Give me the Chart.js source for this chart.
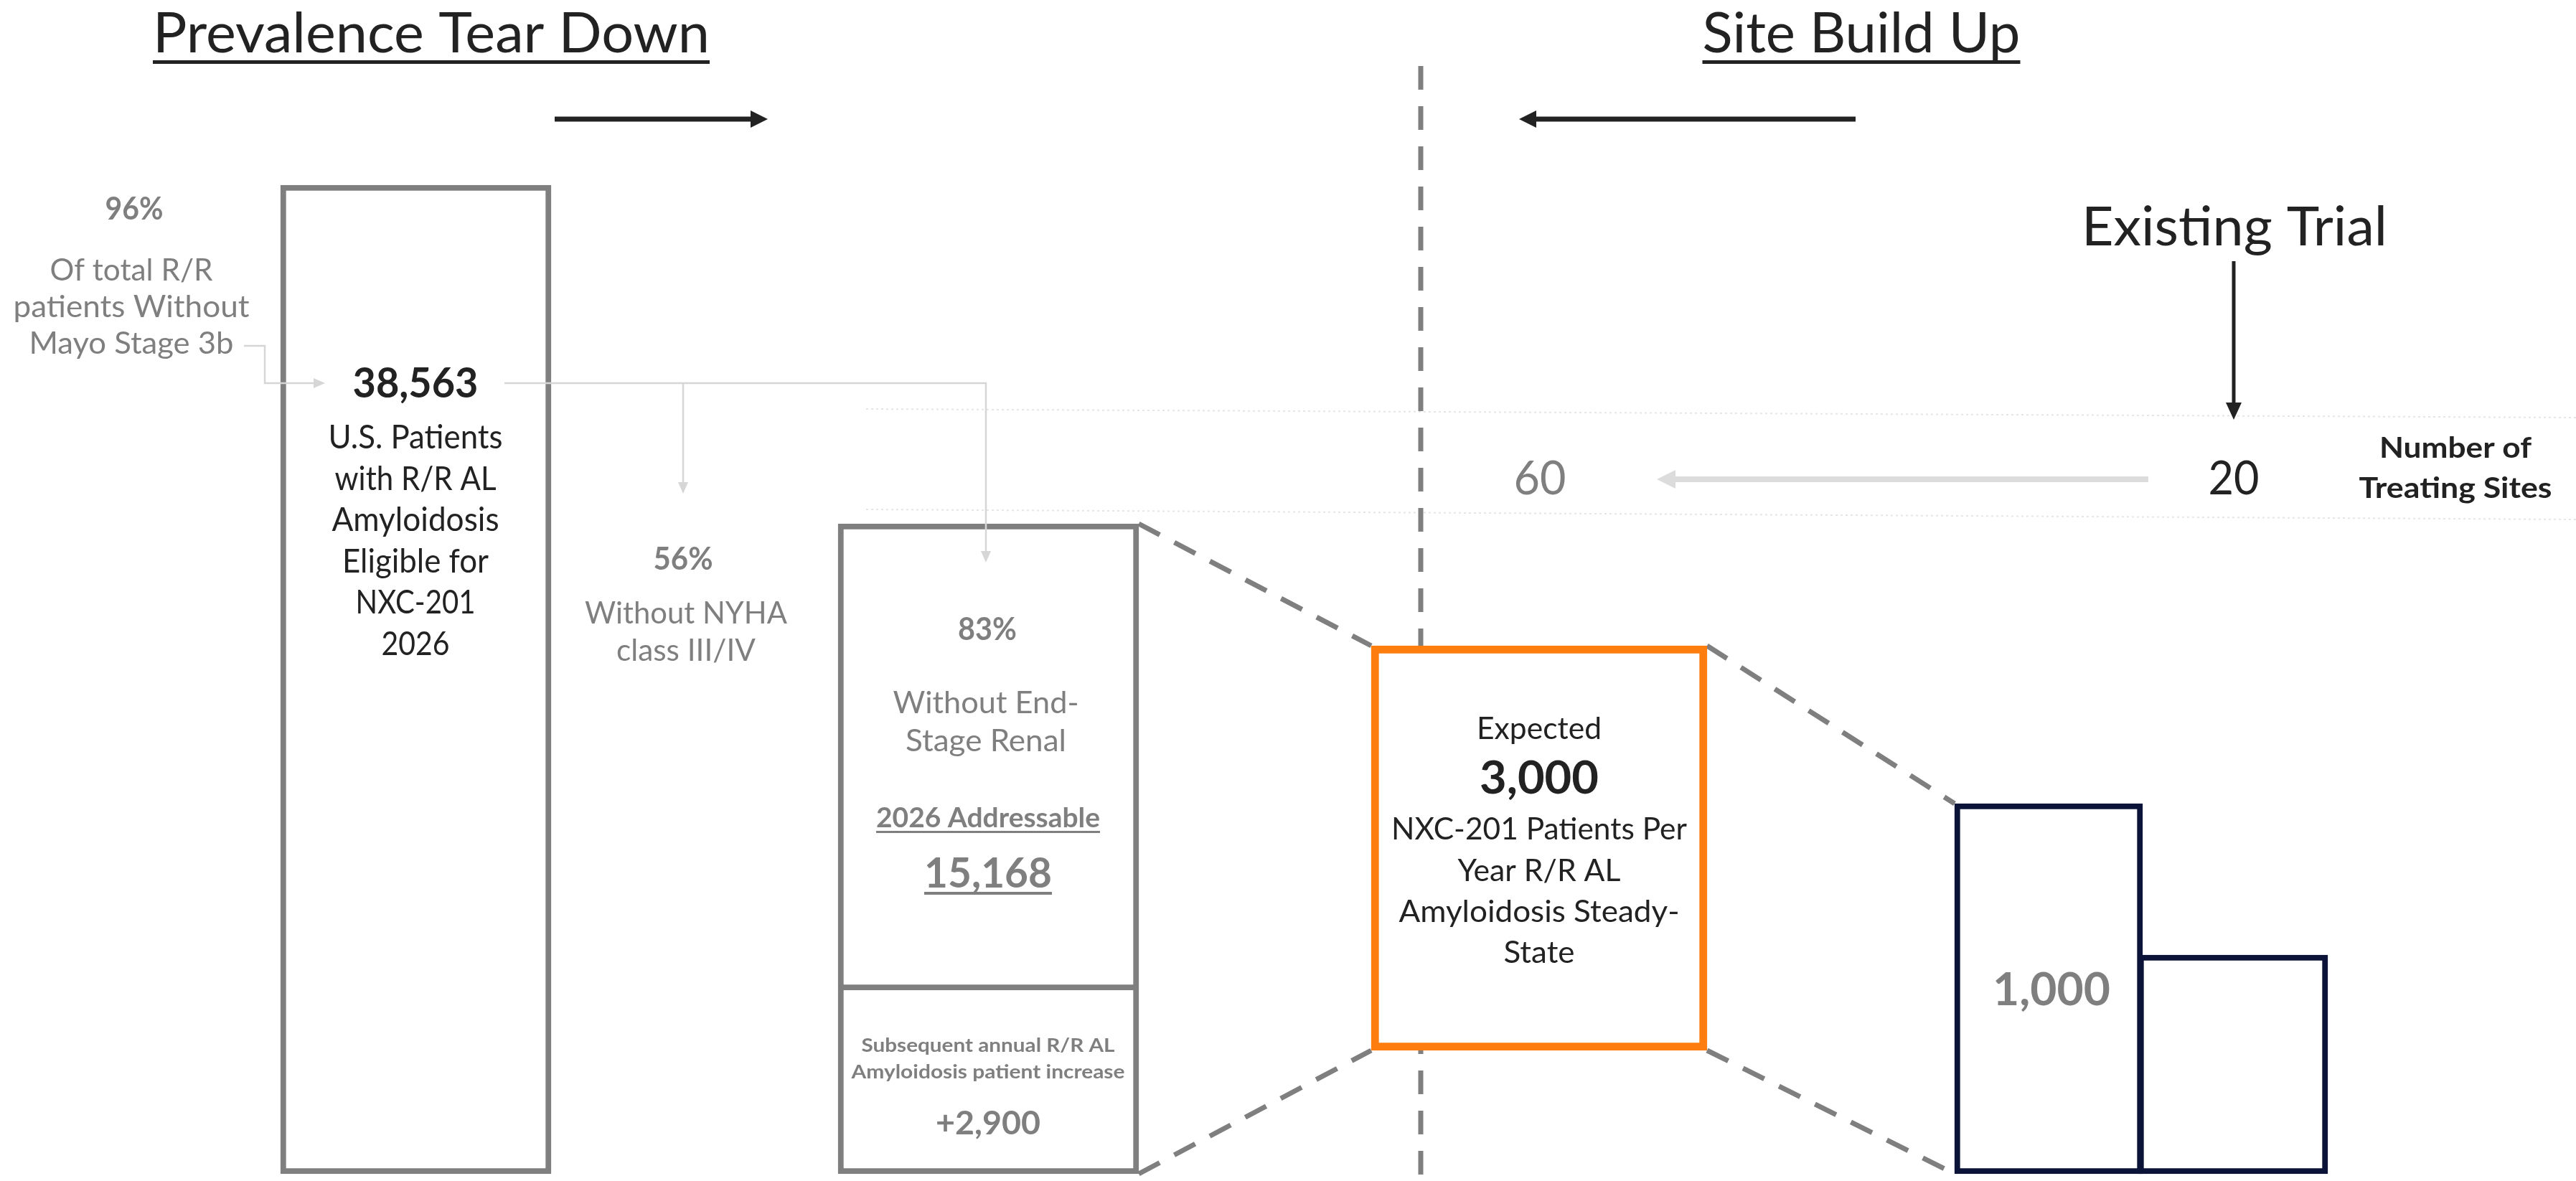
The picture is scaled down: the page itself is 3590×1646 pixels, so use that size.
<!DOCTYPE html>
<html>
<head>
<meta charset="utf-8">
<script src="https://cdn.jsdelivr.net/npm/chart.js@4.4.1/dist/chart.umd.min.js"></script>
<style>
  html, body { margin: 0; padding: 0; background: #fff; }
  #wrap { width: 3590px; height: 1646px; }
</style>
</head>
<body>
<div id="wrap"><canvas id="chart" width="3590" height="1646"></canvas></div>
<script>
// Boxes of the funnel, left to right
const BOX_NAMES = ['Eligible 2026', 'Addressable 2026', 'Annual increase', 'Expected steady-state', 'Existing sites', 'Added sites'];
// Box extents, in px above the common base line
const BOX_LOW  = [0, 256, 0, 172, 0, 0];
const BOX_HIGH = [1378, 906, 256, 736, 516, 305];

// Numbers printed on the figure
const PATIENTS = ['38,563', '15,168', '+2,900', '3,000', '1,000'];
const PERCENTS = ['96%', '56%', '83%'];
const SITES    = ['60', '20'];

// Layout (figure px) — kept apart from the data
const W = 3590, H = 1646, BASE = 1636;
const GRAY = '#7f7f7f', DARK = '#222222', ORANGE = '#fd7e0f', NAVY = '#0b1438', FAINT = '#d6d6d6';
const BOX_X = [579.5, 1377.5, 1377.5, 2145, 2855, 3112];
const BOX_W = [377, 419, 419, 468, 262, 264];
const BOX_COLOR  = [GRAY, GRAY, GRAY, ORANGE, NAVY, NAVY];
const BOX_BORDER = [8, 8, { top: 0, left: 8, right: 8, bottom: 8 }, 11, 8, 8];
const FONT = 'Lato, "Open Sans", sans-serif';

// figure y (from top) -> value on the y axis
const v = (figY) => BASE - figY;

// corner of a box: side -1 left / +1 right, top or bottom
const corner = (i, side, top) => ({ x: BOX_X[i] + side * BOX_W[i] / 2, y: top ? BOX_HIGH[i] : BOX_LOW[i] });

const bars = BOX_NAMES.map((name, i) => ({
  type: 'bar',
  label: name,
  data: [{ x: BOX_X[i], y: [BOX_LOW[i], BOX_HIGH[i]] }],
  barThickness: BOX_W[i],
  backgroundColor: '#ffffff',
  borderColor: BOX_COLOR[i],
  borderWidth: BOX_BORDER[i],
  borderSkipped: false,
  stack: 'boxes',
  order: 1,
}));

const dashed = (pts, order) => ({
  type: 'line', data: pts, borderColor: GRAY, borderWidth: 7, borderDash: [33, 23],
  borderCapStyle: 'butt', pointRadius: 0, fill: false, tension: 0, order,
});
const faint = (pts) => ({
  type: 'line', data: pts, borderColor: '#e6e6e6', borderWidth: 2, borderDash: [3, 4],
  pointRadius: 0, fill: false, tension: 0, order: 6,
});

const lines = [
  // zoom lines from the addressable box to the orange box, and on to the site boxes
  dashed([corner(1, 1, true),  corner(3, -1, true)], 3),
  dashed([corner(2, 1, false), corner(3, -1, false)], 3),
  dashed([corner(3, 1, true),  corner(4, -1, true)], 3),
  dashed([corner(3, 1, false), corner(4, -1, false)], 3),
  // centre divider
  dashed([{ x: 1980, y: v(92) }, { x: 1980, y: v(H) }], 5),
  // faint guide lines around the site count row
  faint([{ x: 1207, y: v(570) }, { x: W, y: v(582) }]),
  faint([{ x: 1207, y: v(710) }, { x: W, y: v(724) }]),
];

// text: [string, x, baseline y, size, bold, colour, target width, underline]
const TEXTS = [
  ['Prevalence Tear Down', 601, 73, 78, false, DARK, 776, [84, 5]],
  ['Site Build Up', 2594, 73, 77, false, DARK, 443, [84, 5]],

  [PERCENTS[0], 187, 306, 43, true, GRAY, 81],
  ['Of total R/R', 183, 391, 43, false, GRAY, 227],
  ['patients Without', 183, 442, 43, false, GRAY, 329],
  ['Mayo Stage 3b', 183, 493, 43, false, GRAY, 285],

  [PATIENTS[0], 579, 554, 57, true, DARK, 175],
  ['U.S. Patients', 579, 625, 46, false, DARK, 243],
  ['with R/R AL', 579, 683, 46, false, DARK, 225],
  ['Amyloidosis', 579, 740, 46, false, DARK, 233],
  ['Eligible for', 579, 798, 46, false, DARK, 204],
  ['NXC-201', 579, 855, 46, false, DARK, 167],
  ['2026', 579, 913, 46, false, DARK, 95],

  [PERCENTS[1], 952, 794, 43, true, GRAY, 83],
  ['Without NYHA', 956, 869, 43, false, GRAY, 282],
  ['class III/IV', 956, 921, 43, false, GRAY, 194],

  [PERCENTS[2], 1376, 892, 43, true, GRAY, 82],
  ['Without End-', 1374, 994, 43, false, GRAY, 259],
  ['Stage Renal', 1374, 1047, 43, false, GRAY, 224],
  ['2026 Addressable', 1377, 1153, 38, true, GRAY, 312, [1158, 3]],
  [PATIENTS[1], 1377, 1237, 58, true, GRAY, 178, [1243, 4]],
  ['Subsequent annual R/R AL', 1377, 1466, 27, true, GRAY, 353],
  ['Amyloidosis patient increase', 1377, 1503, 27, true, GRAY, 381],
  [PATIENTS[2], 1377, 1581, 46, true, GRAY, 146],

  ['Expected', 2145, 1030, 43, false, DARK, 174],
  [PATIENTS[3], 2145, 1106, 64, true, DARK, 166],
  ['NXC-201 Patients Per', 2145, 1170, 43, false, DARK, 412],
  ['Year R/R AL', 2145, 1228, 43, false, DARK, 227],
  ['Amyloidosis Steady-', 2145, 1285, 43, false, DARK, 391],
  ['State', 2145, 1342, 43, false, DARK, 99],

  [PATIENTS[4], 2859, 1401, 64, true, GRAY, 164],

  ['Existing Trial', 3114, 342, 75, false, DARK, 426],
  [SITES[0], 2146, 689, 65, false, GRAY, 73],
  [SITES[1], 3113, 689, 65, false, DARK, 71],
  ['Number of', 3422, 638, 40, true, DARK, 212],
  ['Treating Sites', 3422, 694, 40, true, DARK, 269],
];

// arrows: polyline points (figure px), colour, line width, head length, head half-width
const ARROWS = [
  [[[773, 166], [1070, 166]], DARK, 7, 24, 12],
  [[[2586, 166], [2117, 166]], DARK, 7, 24, 12],
  [[[3113, 364], [3113, 585]], DARK, 5, 24, 11],
  [[[2994, 668], [2309, 668]], '#dcdcdc', 8, 26, 13],
  [[[340, 482], [369, 482], [369, 534], [453, 534]], FAINT, 2.5, 16, 7],
  [[[703, 534], [1374, 534], [1374, 784]], FAINT, 2.5, 16, 7],
  [[[952, 534], [952, 688]], FAINT, 2.5, 16, 7],
];

const annotate = {
  id: 'annotate',
  afterDatasetsDraw(chart) {
    const { ctx, scales: { x, y } } = chart;
    const X = (px) => x.getPixelForValue(px);
    const Y = (py) => y.getPixelForValue(v(py));

    // arrows and connectors
    ARROWS.forEach(([pts, color, lw, hl, hw]) => {
      const p = pts.map(([a, b]) => [X(a), Y(b)]);
      const [ex, ey] = p[p.length - 1];
      const [sx, sy] = p[p.length - 2];
      const len = Math.hypot(ex - sx, ey - sy);
      const ux = (ex - sx) / len, uy = (ey - sy) / len;
      const bx = ex - ux * hl, by = ey - uy * hl;
      ctx.save();
      ctx.strokeStyle = color;
      ctx.fillStyle = color;
      ctx.lineWidth = lw;
      ctx.lineJoin = 'miter';
      ctx.beginPath();
      ctx.moveTo(p[0][0], p[0][1]);
      for (let i = 1; i < p.length - 1; i++) ctx.lineTo(p[i][0], p[i][1]);
      ctx.lineTo(bx + ux, by + uy);
      ctx.stroke();
      ctx.beginPath();
      ctx.moveTo(ex, ey);
      ctx.lineTo(bx - uy * hw, by + ux * hw);
      ctx.lineTo(bx + uy * hw, by - ux * hw);
      ctx.closePath();
      ctx.fill();
      ctx.restore();
    });

    // texts, squeezed to the widths
    TEXTS.forEach(([text, tx, ty, size, bold, color, width, under]) => {
      ctx.save();
      ctx.font = `${bold ? 700 : 400} ${size}px ${FONT}`;
      const m = ctx.measureText(text).width;
      const k = width ? Math.min(1.3, Math.max(0.7, width / m)) : 1;
      ctx.fillStyle = color;
      ctx.textAlign = 'center';
      ctx.textBaseline = 'alphabetic';
      ctx.translate(X(tx), Y(ty));
      ctx.scale(k, 1);
      ctx.fillText(text, 0, 0);
      ctx.restore();
      if (under) {
        ctx.fillStyle = color;
        ctx.fillRect(X(tx) - m * k / 2, Y(under[0]), m * k, under[1]);
      }
    });
  },
};

new Chart(document.getElementById('chart'), {
  type: 'bar',
  data: { datasets: [...bars, ...lines] },
  options: {
    responsive: false,
    animation: false,
    events: [],
    layout: { padding: 0 },
    plugins: { legend: { display: false }, tooltip: { enabled: false } },
    scales: {
      x: { type: 'linear', min: 0, max: W, offset: false, display: false, grid: { offset: false } },
      y: { type: 'linear', min: v(H), max: BASE, stacked: false, display: false },
    },
  },
  plugins: [annotate],
});
</script>
</body>
</html>
